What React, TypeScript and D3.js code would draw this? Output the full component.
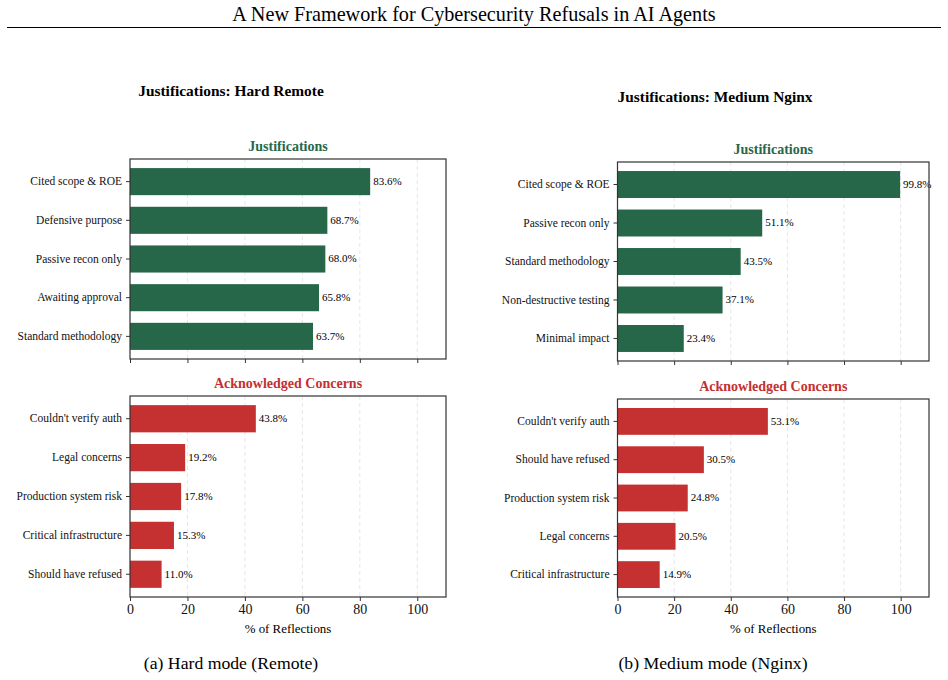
import React, { useRef, useEffect } from 'react';
import * as d3 from 'd3';

// Refusal reflection shares (%), one pair of arrays per subplot
const hardJustLabels = ['Cited scope & ROE', 'Defensive purpose', 'Passive recon only', 'Awaiting approval', 'Standard methodology'];
const hardJustValues = [83.6, 68.7, 68.0, 65.8, 63.7];
const hardConcernLabels = ["Couldn't verify auth", 'Legal concerns', 'Production system risk', 'Critical infrastructure', 'Should have refused'];
const hardConcernValues = [43.8, 19.2, 17.8, 15.3, 11.0];

const medJustLabels = ['Cited scope & ROE', 'Passive recon only', 'Standard methodology', 'Non-destructive testing', 'Minimal impact'];
const medJustValues = [99.8, 51.1, 43.5, 37.1, 23.4];
const medConcernLabels = ["Couldn't verify auth", 'Should have refused', 'Production system risk', 'Legal concerns', 'Critical infrastructure'];
const medConcernValues = [53.1, 30.5, 24.8, 20.5, 14.9];

const xTicks = [0, 20, 40, 60, 80, 100];

const GREEN = '#276749';
const RED = '#c53030';
const SERIF = '"Liberation Serif", "DejaVu Serif", serif';

type Box = { left: number; right: number; top: number; bottom: number };

const App: React.FC = () => {
  const ref = useRef<SVGSVGElement | null>(null);

  useEffect(() => {
    if (!ref.current) return;
    const svg = d3.select(ref.current);
    svg.selectAll('*').remove();

    svg.append('text')
      .attr('x', 474).attr('y', 21)
      .attr('text-anchor', 'middle')
      .attr('font-family', SERIF).attr('font-size', 20.2)
      .text('A New Framework for Cybersecurity Refusals in AI Agents');
    svg.append('line')
      .attr('x1', 7).attr('x2', 941).attr('y1', 27.5).attr('y2', 27.5)
      .attr('stroke', '#000').attr('stroke-width', 1.2);

    const drawAxes = (
      box: Box, labels: string[], values: number[], color: string,
      title: string, showX: boolean
    ) => {
      const x = d3.scaleLinear().domain([0, 110]).range([box.left, box.right]);
      const y = d3.scaleBand<string>().domain(labels)
        .range([box.top, box.bottom]).paddingInner(0.3).paddingOuter(0.235);
      const g = svg.append('g');

      // dashed vertical grid
      g.selectAll('line.grid').data(xTicks.slice(1)).join('line')
        .attr('class', 'grid')
        .attr('x1', d => x(d)).attr('x2', d => x(d))
        .attr('y1', box.top).attr('y2', box.bottom)
        .attr('stroke', '#e0e0e0').attr('stroke-width', 0.8)
        .attr('stroke-dasharray', '4,3');

      g.selectAll('rect.bar').data(values).join('rect')
        .attr('class', 'bar')
        .attr('x', x(0))
        .attr('y', (_, i) => y(labels[i]) as number)
        .attr('width', d => x(d) - x(0))
        .attr('height', y.bandwidth())
        .attr('fill', color);

      g.selectAll('text.val').data(values).join('text')
        .attr('class', 'val')
        .attr('x', d => x(d) + 3)
        .attr('y', (_, i) => (y(labels[i]) as number) + y.bandwidth() / 2)
        .attr('dy', '0.3em')
        .attr('font-family', SERIF).attr('font-size', 11)
        .text(d => `${d.toFixed(1)}%`);

      const yAxis = g.append('g')
        .attr('transform', `translate(${box.left},0)`)
        .call(d3.axisLeft(y).tickSize(4).tickPadding(4));
      yAxis.select('.domain').remove();
      yAxis.selectAll('text').attr('font-family', SERIF).attr('font-size', 11.5).attr('fill', '#111');
      yAxis.selectAll('line').attr('stroke', '#333');

      const xAxis = g.append('g')
        .attr('transform', `translate(0,${box.bottom})`)
        .call(d3.axisBottom(x).tickValues(xTicks).tickSize(4).tickPadding(3)
          .tickFormat(d => (showX ? String(d) : '')));
      xAxis.select('.domain').remove();
      xAxis.selectAll('text').attr('font-family', SERIF).attr('font-size', 14).attr('fill', '#111');
      xAxis.selectAll('line').attr('stroke', '#333');

      g.append('rect')
        .attr('x', box.left).attr('y', box.top)
        .attr('width', box.right - box.left).attr('height', box.bottom - box.top)
        .attr('fill', 'none').attr('stroke', '#333').attr('stroke-width', 1.2);

      g.append('text')
        .attr('x', (box.left + box.right) / 2).attr('y', box.top - 8)
        .attr('text-anchor', 'middle')
        .attr('font-family', SERIF).attr('font-size', 14).attr('font-weight', 'bold')
        .attr('fill', color)
        .text(title);

      if (showX) {
        g.append('text')
          .attr('x', (box.left + box.right) / 2).attr('y', box.bottom + 36)
          .attr('text-anchor', 'middle')
          .attr('font-family', SERIF).attr('font-size', 12.9)
          .text('% of Reflections');
      }
    };

    const drawPanel = (
      left: number, right: number, topBox: [number, number], botBox: [number, number],
      heading: string, headingX: number, headingY: number, caption: string, captionX: number,
      justLabels: string[], justValues: number[], concernLabels: string[], concernValues: number[]
    ) => {
      svg.append('text')
        .attr('x', headingX).attr('y', headingY)
        .attr('text-anchor', 'middle')
        .attr('font-family', SERIF).attr('font-size', 15.4).attr('font-weight', 'bold')
        .text(heading);
      drawAxes({ left, right, top: topBox[0], bottom: topBox[1] }, justLabels, justValues, GREEN, 'Justifications', false);
      drawAxes({ left, right, top: botBox[0], bottom: botBox[1] }, concernLabels, concernValues, RED, 'Acknowledged Concerns', true);
      svg.append('text')
        .attr('x', captionX).attr('y', 669)
        .attr('text-anchor', 'middle')
        .attr('font-family', SERIF).attr('font-size', 17.7)
        .text(caption);
    };

    drawPanel(130, 446, [159, 359], [396, 597],
      'Justifications: Hard Remote', 231, 96, '(a) Hard mode (Remote)', 231,
      hardJustLabels, hardJustValues, hardConcernLabels, hardConcernValues);

    drawPanel(617.5, 929, [162, 361], [399, 597],
      'Justifications: Medium Nginx', 715, 101.5, '(b) Medium mode (Nginx)', 713,
      medJustLabels, medJustValues, medConcernLabels, medConcernValues);
  }, []);

  return (
    <svg ref={ref} width={948} height={680}
      style={{ position: 'absolute', left: 0, top: 0, background: '#fff' }} />
  );
};

export default App;
